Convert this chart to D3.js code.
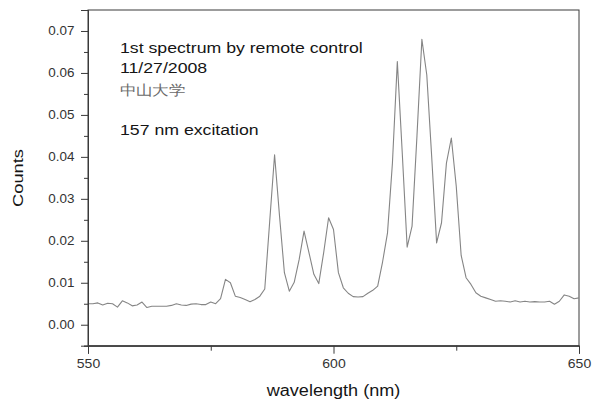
<!DOCTYPE html>
<html>
<head>
<meta charset="utf-8">
<script src="https://cdn.jsdelivr.net/npm/d3@7"></script>
<style>
  html, body { margin: 0; padding: 0; background: #fff; }
  svg { display: block; }
  text { font-family: "Liberation Sans", Arial, Helvetica, sans-serif; }
</style>
</head>
<body>
<svg id="chart" width="592" height="400"></svg>
<script>
// Emission spectrum, 1 nm steps from 550 to 650 nm
const wavelengths = d3.range(550, 651, 1);
const counts = [
  0.0050, 0.0050, 0.0052, 0.0047, 0.0051, 0.0050, 0.0042, 0.0057, 0.0052, 0.0045,
  0.0047, 0.0054, 0.0041, 0.0044, 0.0044, 0.0044, 0.0044, 0.0046, 0.0050, 0.0047,
  0.0046, 0.0049, 0.0050, 0.0048, 0.0048, 0.0054, 0.0050, 0.0062, 0.0108, 0.0100,
  0.0068, 0.0065, 0.0060, 0.0055, 0.0060, 0.0068, 0.0085, 0.0245, 0.0405, 0.0260,
  0.0124, 0.0080, 0.0101, 0.0155, 0.0223, 0.0172, 0.0120, 0.0098, 0.0172, 0.0255,
  0.0227, 0.0124, 0.0088, 0.0075, 0.0067, 0.0066, 0.0067, 0.0075, 0.0082, 0.0092,
  0.0150, 0.0219, 0.0385, 0.0627, 0.0410, 0.0185, 0.0235, 0.0450, 0.0680, 0.0595,
  0.0400, 0.0195, 0.0243, 0.0385, 0.0445, 0.0330, 0.0165, 0.0112, 0.0096, 0.0076,
  0.0068, 0.0064, 0.0060, 0.0056, 0.0057, 0.0056, 0.0054, 0.0057, 0.0054, 0.0056,
  0.0054, 0.0055, 0.0054, 0.0054, 0.0056, 0.0049, 0.0056, 0.0071, 0.0068, 0.0062,
  0.0064
];

const xMajorTicks = [550, 600, 650];
const xMinorTicks = [575, 625];
const yMajorTicks = [0.00, 0.01, 0.02, 0.03, 0.04, 0.05, 0.06, 0.07];
const yMinorTicks = [-0.005, 0.005, 0.015, 0.025, 0.035, 0.045, 0.055, 0.065, 0.075];

const notes = [
  { text: "1st spectrum by remote control", y: 52.7, color: "#151515", cjk: false },
  { text: "11/27/2008", y: 72.7, color: "#151515", cjk: false },
  { text: "中山大学", y: 94.5, color: "#6a6a6a", cjk: true },
  { text: "157 nm excitation", y: 134.5, color: "#151515", cjk: false }
];

const xLabel = "wavelength (nm)";
const yLabel = "Counts";

const margin = { left: 88, right: 13, top: 10, bottom: 54.3 };
const W = 592, H = 400;

const svg = d3.select("#chart");

const x = d3.scaleLinear().domain([550, 650]).range([margin.left, W - margin.right]);
const y = d3.scaleLinear().domain([-0.005, 0.075]).range([H - margin.bottom, margin.top]);

const axisColor = "#3a3a3a";
const stretch = 1.18; // wide-set lettering

// frame
svg.append("rect")
  .attr("x", x(550)).attr("y", y(0.075))
  .attr("width", x(650) - x(550)).attr("height", y(-0.005) - y(0.075))
  .attr("fill", "none").attr("stroke", axisColor).attr("stroke-width", 1);

// spectrum trace
const line = d3.line()
  .x((d, i) => x(wavelengths[i]))
  .y(d => y(d));

svg.append("path")
  .datum(counts)
  .attr("d", line)
  .attr("fill", "none")
  .attr("stroke", "#858585")
  .attr("stroke-width", 1.1)
  .attr("stroke-linejoin", "round");

// axes
function styleAxis(g) {
  g.select(".domain").attr("stroke", axisColor);
  g.selectAll(".tick line").attr("stroke", axisColor);
}

const gxMinor = svg.append("g")
  .attr("transform", `translate(0,${y(-0.005)})`)
  .call(d3.axisBottom(x).tickValues(xMinorTicks).tickSize(5).tickFormat(""));
styleAxis(gxMinor);

const gx = svg.append("g")
  .attr("transform", `translate(0,${y(-0.005)})`)
  .call(d3.axisBottom(x).tickValues(xMajorTicks).tickSize(8).tickPadding(5.6).tickFormat(d3.format("d")));
styleAxis(gx);
gx.selectAll(".tick text")
  .attr("fill", "#333")
  .attr("font-size", 12.5)
  .each(function() {
    const t = d3.select(this);
    const ty = +t.attr("y");
    t.attr("y", 0).attr("transform", `translate(0,${ty}) scale(1.12,1)`);
  });

const gyMinor = svg.append("g")
  .attr("transform", `translate(${x(550)},0)`)
  .call(d3.axisLeft(y).tickValues(yMinorTicks).tickSize(4).tickFormat(""));
styleAxis(gyMinor);

const gy = svg.append("g")
  .attr("transform", `translate(${x(550)},0)`)
  .call(d3.axisLeft(y).tickValues(yMajorTicks).tickSize(7).tickPadding(6.5).tickFormat(d3.format(".2f")));
styleAxis(gy);
gy.selectAll(".tick text")
  .attr("fill", "#333")
  .attr("font-size", 12)
  .each(function() {
    const t = d3.select(this);
    const tx = +t.attr("x");
    t.attr("x", 0).attr("transform", `translate(${tx},0) scale(1.12,1)`);
  });

// annotation block
notes.forEach(n => {
  svg.append("text")
    .attr("transform", `translate(120,${n.y}) scale(${stretch},1)`)
    .attr("font-size", n.cjk ? 14 : 15)
    .attr("font-family", n.cjk ? "'Noto Sans CJK SC', sans-serif" : null)
    .attr("fill", n.color)
    .text(n.text);
});

// axis titles
svg.append("text")
  .attr("transform", `translate(${(x(550) + x(650)) / 2},395.5) scale(1.13,1)`)
  .attr("text-anchor", "middle")
  .attr("font-size", 16)
  .attr("fill", "#151515")
  .text(xLabel);

svg.append("text")
  .attr("transform", `translate(23,178) rotate(-90) scale(1.18,1)`)
  .attr("text-anchor", "middle")
  .attr("font-size", 15.5)
  .attr("fill", "#151515")
  .text(yLabel);
</script>
</body>
</html>
